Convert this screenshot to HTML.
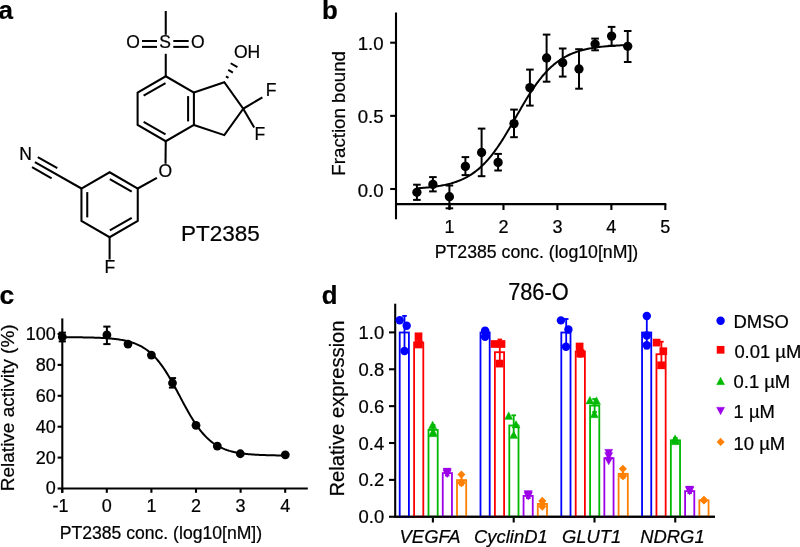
<!DOCTYPE html>
<html><head><meta charset="utf-8"><style>
html,body{margin:0;padding:0;background:#fff;overflow:hidden}
svg{display:block;will-change:transform}
text{font-family:"Liberation Sans",sans-serif;fill:#000;stroke:#000;stroke-width:0.22px}
</style></head><body>
<svg width="800" height="547" viewBox="0 0 800 547">
<rect width="800" height="547" fill="#fff"/>
<polygon points="165.75,76.25 193.90,92.50 193.90,125.00 165.75,141.25 137.60,125.00 137.60,92.50" fill="none" stroke="#000" stroke-width="2.05" stroke-linejoin="miter"/>
<line x1="165.53" y1="83.07" x2="143.62" y2="95.72" stroke="#000" stroke-width="2.05"/>
<line x1="188.10" y1="96.10" x2="188.10" y2="121.40" stroke="#000" stroke-width="2.05"/>
<line x1="165.53" y1="134.43" x2="143.62" y2="121.78" stroke="#000" stroke-width="2.05"/>
<polygon points="109.60,172.25 137.75,188.50 137.75,221.00 109.60,237.25 81.45,221.00 81.45,188.50" fill="none" stroke="#000" stroke-width="2.05" stroke-linejoin="miter"/>
<line x1="87.25" y1="192.10" x2="87.25" y2="217.40" stroke="#000" stroke-width="2.05"/>
<line x1="109.82" y1="179.07" x2="131.73" y2="191.72" stroke="#000" stroke-width="2.05"/>
<line x1="131.73" y1="217.78" x2="109.82" y2="230.43" stroke="#000" stroke-width="2.05"/>
<polyline points="193.90,92.50 224.3,82.2 243.2,108.75 224.3,135.1 193.90,125.00" fill="none" stroke="#000" stroke-width="2.05" stroke-linejoin="miter"/>
<line x1="243.20" y1="108.75" x2="262.40" y2="97.30" stroke="#000" stroke-width="2.05"/>
<line x1="243.20" y1="108.75" x2="254.20" y2="127.40" stroke="#000" stroke-width="2.05"/>
<line x1="165.75" y1="11.00" x2="165.75" y2="34.80" stroke="#000" stroke-width="2.05"/>
<line x1="165.75" y1="53.80" x2="165.75" y2="76.25" stroke="#000" stroke-width="2.05"/>
<line x1="142.00" y1="41.00" x2="157.00" y2="41.00" stroke="#000" stroke-width="2.05"/>
<line x1="173.30" y1="41.00" x2="188.70" y2="41.00" stroke="#000" stroke-width="2.05"/>
<line x1="142.00" y1="46.90" x2="157.00" y2="46.90" stroke="#000" stroke-width="2.05"/>
<line x1="173.30" y1="46.90" x2="188.70" y2="46.90" stroke="#000" stroke-width="2.05"/>
<line x1="165.75" y1="141.25" x2="165.50" y2="163.70" stroke="#000" stroke-width="2.05"/>
<line x1="156.90" y1="177.80" x2="137.75" y2="188.50" stroke="#000" stroke-width="2.05"/>
<line x1="109.60" y1="237.25" x2="109.60" y2="259.50" stroke="#000" stroke-width="2.05"/>
<line x1="34.89" y1="162.16" x2="81.45" y2="188.50" stroke="#000" stroke-width="2.05"/>
<line x1="37.75" y1="157.11" x2="57.33" y2="168.19" stroke="#000" stroke-width="2.05"/>
<line x1="32.03" y1="167.20" x2="51.62" y2="178.28" stroke="#000" stroke-width="2.05"/>
<line x1="225.93" y1="76.33" x2="228.53" y2="77.82" stroke="#000" stroke-width="2.0"/>
<line x1="228.22" y1="69.92" x2="232.91" y2="72.61" stroke="#000" stroke-width="2.0"/>
<line x1="230.66" y1="63.25" x2="237.43" y2="67.13" stroke="#000" stroke-width="2.0"/>
<text x="165.20" y="47.80" font-size="17.5" text-anchor="middle" font-weight="normal" font-style="normal" >S</text>
<text x="133.10" y="47.80" font-size="17.5" text-anchor="middle" font-weight="normal" font-style="normal" >O</text>
<text x="197.90" y="47.80" font-size="17.5" text-anchor="middle" font-weight="normal" font-style="normal" >O</text>
<text x="234.00" y="57.80" font-size="17.5" text-anchor="start" font-weight="normal" font-style="normal" >OH</text>
<text x="265.70" y="95.80" font-size="17.5" text-anchor="start" font-weight="normal" font-style="normal" >F</text>
<text x="254.40" y="139.50" font-size="17.5" text-anchor="start" font-weight="normal" font-style="normal" >F</text>
<text x="165.30" y="176.70" font-size="17.5" text-anchor="middle" font-weight="normal" font-style="normal" >O</text>
<text x="19.30" y="160.00" font-size="17.5" text-anchor="start" font-weight="normal" font-style="normal" >N</text>
<text x="104.40" y="272.90" font-size="17.5" text-anchor="start" font-weight="normal" font-style="normal" >F</text>
<text x="181.00" y="240.50" font-size="22.5" text-anchor="start" font-weight="normal" font-style="normal" >PT2385</text>
<text x="-1.50" y="18.60" font-size="26" text-anchor="start" font-weight="bold" font-style="normal" >a</text>
<line x1="396.00" y1="12.50" x2="396.00" y2="219.30" stroke="#000" stroke-width="2.1"/>
<line x1="396.00" y1="204.10" x2="666.30" y2="204.10" stroke="#000" stroke-width="2.1"/>
<line x1="390.20" y1="189.00" x2="396.00" y2="189.00" stroke="#000" stroke-width="2.1"/>
<text x="383.60" y="196.50" font-size="18.6" text-anchor="end" font-weight="normal" font-style="normal" >0.0</text>
<line x1="390.20" y1="115.85" x2="396.00" y2="115.85" stroke="#000" stroke-width="2.1"/>
<text x="383.60" y="123.35" font-size="18.6" text-anchor="end" font-weight="normal" font-style="normal" >0.5</text>
<line x1="390.20" y1="42.70" x2="396.00" y2="42.70" stroke="#000" stroke-width="2.1"/>
<text x="383.60" y="50.20" font-size="18.6" text-anchor="end" font-weight="normal" font-style="normal" >1.0</text>
<line x1="449.52" y1="204.10" x2="449.52" y2="210.00" stroke="#000" stroke-width="2.1"/>
<text x="449.52" y="233.00" font-size="18" text-anchor="middle" font-weight="normal" font-style="normal" >1</text>
<line x1="503.47" y1="204.10" x2="503.47" y2="210.00" stroke="#000" stroke-width="2.1"/>
<text x="503.47" y="233.00" font-size="18" text-anchor="middle" font-weight="normal" font-style="normal" >2</text>
<line x1="557.42" y1="204.10" x2="557.42" y2="210.00" stroke="#000" stroke-width="2.1"/>
<text x="557.42" y="233.00" font-size="18" text-anchor="middle" font-weight="normal" font-style="normal" >3</text>
<line x1="611.37" y1="204.10" x2="611.37" y2="210.00" stroke="#000" stroke-width="2.1"/>
<text x="611.37" y="233.00" font-size="18" text-anchor="middle" font-weight="normal" font-style="normal" >4</text>
<line x1="665.32" y1="204.10" x2="665.32" y2="210.00" stroke="#000" stroke-width="2.1"/>
<text x="665.32" y="233.00" font-size="18" text-anchor="middle" font-weight="normal" font-style="normal" >5</text>
<text x="536.50" y="257.70" font-size="17.7" text-anchor="middle" font-weight="normal" font-style="normal" >PT2385 conc. (log10[nM])</text>
<text x="345.30" y="113.30" font-size="18.7" text-anchor="middle" font-weight="normal" font-style="normal" transform="rotate(-90 345.3 113.3)">Fraction bound</text>
<text x="322.00" y="18.60" font-size="25.8" text-anchor="start" font-weight="bold" font-style="normal" >b</text>
<polyline points="416.74,188.26 417.79,188.20 418.83,188.14 419.88,188.07 420.92,188.00 421.97,187.92 423.01,187.84 424.06,187.76 425.10,187.67 426.15,187.58 427.19,187.49 428.24,187.39 429.28,187.28 430.33,187.17 431.37,187.05 432.42,186.93 433.46,186.80 434.51,186.67 435.55,186.52 436.60,186.38 437.64,186.22 438.69,186.06 439.73,185.88 440.78,185.70 441.82,185.52 442.87,185.32 443.92,185.11 444.96,184.89 446.01,184.66 447.05,184.42 448.10,184.17 449.14,183.91 450.19,183.63 451.23,183.35 452.28,183.04 453.32,182.73 454.37,182.40 455.41,182.05 456.46,181.69 457.50,181.31 458.55,180.91 459.59,180.50 460.64,180.06 461.68,179.61 462.73,179.14 463.77,178.64 464.82,178.13 465.86,177.59 466.91,177.03 467.95,176.45 469.00,175.84 470.05,175.20 471.09,174.54 472.14,173.85 473.18,173.14 474.23,172.39 475.27,171.62 476.32,170.82 477.36,169.98 478.41,169.12 479.45,168.22 480.50,167.29 481.54,166.33 482.59,165.33 483.63,164.30 484.68,163.23 485.72,162.13 486.77,161.00 487.81,159.83 488.86,158.62 489.90,157.38 490.95,156.11 491.99,154.80 493.04,153.45 494.08,152.07 495.13,150.65 496.18,149.20 497.22,147.72 498.27,146.21 499.31,144.66 500.36,143.09 501.40,141.49 502.45,139.86 503.49,138.20 504.54,136.52 505.58,134.81 506.63,133.09 507.67,131.34 508.72,129.58 509.76,127.80 510.81,126.01 511.85,124.20 512.90,122.39 513.94,120.57 514.99,118.75 516.03,116.92 517.08,115.10 518.12,113.27 519.17,111.45 520.21,109.64 521.26,107.84 522.31,106.05 523.35,104.27 524.40,102.51 525.44,100.76 526.49,99.04 527.53,97.33 528.58,95.65 529.62,94.00 530.67,92.37 531.71,90.76 532.76,89.19 533.80,87.65 534.85,86.13 535.89,84.65 536.94,83.20 537.98,81.79 539.03,80.41 540.07,79.07 541.12,77.76 542.16,76.48 543.21,75.24 544.25,74.04 545.30,72.87 546.34,71.73 547.39,70.63 548.44,69.57 549.48,68.54 550.53,67.55 551.57,66.58 552.62,65.65 553.66,64.76 554.71,63.89 555.75,63.06 556.80,62.26 557.84,61.49 558.89,60.74 559.93,60.03 560.98,59.34 562.02,58.68 563.07,58.05 564.11,57.44 565.16,56.85 566.20,56.29 567.25,55.76 568.29,55.24 569.34,54.75 570.38,54.28 571.43,53.82 572.47,53.39 573.52,52.98 574.57,52.58 575.61,52.20 576.66,51.84 577.70,51.49 578.75,51.16 579.79,50.85 580.84,50.55 581.88,50.26 582.93,49.98 583.97,49.72 585.02,49.47 586.06,49.23 587.11,49.00 588.15,48.79 589.20,48.58 590.24,48.38 591.29,48.19 592.33,48.01 593.38,47.84 594.42,47.68 595.47,47.52 596.51,47.37 597.56,47.23 598.60,47.10 599.65,46.97 600.70,46.85 601.74,46.73 602.79,46.62 603.83,46.51 604.88,46.41 605.92,46.32 606.97,46.23 608.01,46.14 609.06,46.06 610.10,45.98 611.15,45.90 612.19,45.83 613.24,45.76 614.28,45.70 615.33,45.64 616.37,45.58 617.42,45.52 618.46,45.47 619.51,45.42 620.55,45.37 621.60,45.33 622.64,45.28 623.69,45.24 624.73,45.20 625.78,45.17" fill="none" stroke="#000" stroke-width="2"/>
<line x1="416.90" y1="184.70" x2="416.90" y2="199.90" stroke="#000" stroke-width="2"/>
<line x1="413.10" y1="184.70" x2="420.70" y2="184.70" stroke="#000" stroke-width="2"/>
<line x1="413.10" y1="199.90" x2="420.70" y2="199.90" stroke="#000" stroke-width="2"/>
<circle cx="416.9" cy="192.3" r="4.65" fill="#000"/>
<line x1="432.90" y1="177.10" x2="432.90" y2="191.40" stroke="#000" stroke-width="2"/>
<line x1="429.10" y1="177.10" x2="436.70" y2="177.10" stroke="#000" stroke-width="2"/>
<line x1="429.10" y1="191.40" x2="436.70" y2="191.40" stroke="#000" stroke-width="2"/>
<circle cx="432.9" cy="184.4" r="4.65" fill="#000"/>
<line x1="449.40" y1="185.50" x2="449.40" y2="208.30" stroke="#000" stroke-width="2"/>
<line x1="445.60" y1="185.50" x2="453.20" y2="185.50" stroke="#000" stroke-width="2"/>
<line x1="445.60" y1="208.30" x2="453.20" y2="208.30" stroke="#000" stroke-width="2"/>
<circle cx="449.4" cy="196.7" r="4.65" fill="#000"/>
<line x1="465.40" y1="157.10" x2="465.40" y2="175.10" stroke="#000" stroke-width="2"/>
<line x1="461.60" y1="157.10" x2="469.20" y2="157.10" stroke="#000" stroke-width="2"/>
<line x1="461.60" y1="175.10" x2="469.20" y2="175.10" stroke="#000" stroke-width="2"/>
<circle cx="465.4" cy="166.4" r="4.65" fill="#000"/>
<line x1="481.60" y1="128.60" x2="481.60" y2="176.20" stroke="#000" stroke-width="2"/>
<line x1="477.80" y1="128.60" x2="485.40" y2="128.60" stroke="#000" stroke-width="2"/>
<line x1="477.80" y1="176.20" x2="485.40" y2="176.20" stroke="#000" stroke-width="2"/>
<circle cx="481.6" cy="152.5" r="4.65" fill="#000"/>
<line x1="498.10" y1="153.90" x2="498.10" y2="170.50" stroke="#000" stroke-width="2"/>
<line x1="494.30" y1="153.90" x2="501.90" y2="153.90" stroke="#000" stroke-width="2"/>
<line x1="494.30" y1="170.50" x2="501.90" y2="170.50" stroke="#000" stroke-width="2"/>
<circle cx="498.1" cy="162.4" r="4.65" fill="#000"/>
<line x1="514.00" y1="109.60" x2="514.00" y2="137.20" stroke="#000" stroke-width="2"/>
<line x1="510.20" y1="109.60" x2="517.80" y2="109.60" stroke="#000" stroke-width="2"/>
<line x1="510.20" y1="137.20" x2="517.80" y2="137.20" stroke="#000" stroke-width="2"/>
<circle cx="514.0" cy="123.6" r="4.65" fill="#000"/>
<line x1="529.90" y1="69.60" x2="529.90" y2="105.60" stroke="#000" stroke-width="2"/>
<line x1="526.10" y1="69.60" x2="533.70" y2="69.60" stroke="#000" stroke-width="2"/>
<line x1="526.10" y1="105.60" x2="533.70" y2="105.60" stroke="#000" stroke-width="2"/>
<circle cx="529.9" cy="87.6" r="4.65" fill="#000"/>
<line x1="546.60" y1="34.60" x2="546.60" y2="81.70" stroke="#000" stroke-width="2"/>
<line x1="542.80" y1="34.60" x2="550.40" y2="34.60" stroke="#000" stroke-width="2"/>
<line x1="542.80" y1="81.70" x2="550.40" y2="81.70" stroke="#000" stroke-width="2"/>
<circle cx="546.6" cy="58.0" r="4.65" fill="#000"/>
<line x1="562.70" y1="48.50" x2="562.70" y2="76.60" stroke="#000" stroke-width="2"/>
<line x1="558.90" y1="48.50" x2="566.50" y2="48.50" stroke="#000" stroke-width="2"/>
<line x1="558.90" y1="76.60" x2="566.50" y2="76.60" stroke="#000" stroke-width="2"/>
<circle cx="562.7" cy="62.7" r="4.65" fill="#000"/>
<line x1="579.00" y1="49.20" x2="579.00" y2="88.70" stroke="#000" stroke-width="2"/>
<line x1="575.20" y1="49.20" x2="582.80" y2="49.20" stroke="#000" stroke-width="2"/>
<line x1="575.20" y1="88.70" x2="582.80" y2="88.70" stroke="#000" stroke-width="2"/>
<circle cx="579.0" cy="69.0" r="4.65" fill="#000"/>
<line x1="595.10" y1="38.60" x2="595.10" y2="50.30" stroke="#000" stroke-width="2"/>
<line x1="591.30" y1="38.60" x2="598.90" y2="38.60" stroke="#000" stroke-width="2"/>
<line x1="591.30" y1="50.30" x2="598.90" y2="50.30" stroke="#000" stroke-width="2"/>
<circle cx="595.1" cy="44.1" r="4.65" fill="#000"/>
<line x1="611.60" y1="26.90" x2="611.60" y2="45.80" stroke="#000" stroke-width="2"/>
<line x1="607.80" y1="26.90" x2="615.40" y2="26.90" stroke="#000" stroke-width="2"/>
<line x1="607.80" y1="45.80" x2="615.40" y2="45.80" stroke="#000" stroke-width="2"/>
<circle cx="611.6" cy="36.1" r="4.65" fill="#000"/>
<line x1="627.70" y1="31.00" x2="627.70" y2="62.00" stroke="#000" stroke-width="2"/>
<line x1="623.90" y1="31.00" x2="631.50" y2="31.00" stroke="#000" stroke-width="2"/>
<line x1="623.90" y1="62.00" x2="631.50" y2="62.00" stroke="#000" stroke-width="2"/>
<circle cx="627.7" cy="46.3" r="4.65" fill="#000"/>
<line x1="62.30" y1="318.40" x2="62.30" y2="492.80" stroke="#000" stroke-width="2.1"/>
<line x1="62.30" y1="488.50" x2="307.80" y2="488.50" stroke="#000" stroke-width="2.1"/>
<line x1="57.60" y1="488.50" x2="62.30" y2="488.50" stroke="#000" stroke-width="2.1"/>
<text x="55.80" y="493.90" font-size="18" text-anchor="end" font-weight="normal" font-style="normal" >0</text>
<line x1="57.60" y1="457.60" x2="62.30" y2="457.60" stroke="#000" stroke-width="2.1"/>
<text x="55.80" y="464.00" font-size="18" text-anchor="end" font-weight="normal" font-style="normal" >20</text>
<line x1="57.60" y1="426.70" x2="62.30" y2="426.70" stroke="#000" stroke-width="2.1"/>
<text x="55.80" y="433.10" font-size="18" text-anchor="end" font-weight="normal" font-style="normal" >40</text>
<line x1="57.60" y1="395.80" x2="62.30" y2="395.80" stroke="#000" stroke-width="2.1"/>
<text x="55.80" y="402.20" font-size="18" text-anchor="end" font-weight="normal" font-style="normal" >60</text>
<line x1="57.60" y1="364.90" x2="62.30" y2="364.90" stroke="#000" stroke-width="2.1"/>
<text x="55.80" y="371.30" font-size="18" text-anchor="end" font-weight="normal" font-style="normal" >80</text>
<line x1="57.60" y1="334.00" x2="62.30" y2="334.00" stroke="#000" stroke-width="2.1"/>
<text x="55.80" y="340.40" font-size="18" text-anchor="end" font-weight="normal" font-style="normal" >100</text>
<line x1="62.20" y1="488.50" x2="62.20" y2="492.80" stroke="#000" stroke-width="2.1"/>
<text x="60.60" y="511.70" font-size="18" text-anchor="middle" font-weight="normal" font-style="normal" >-1</text>
<line x1="106.80" y1="488.50" x2="106.80" y2="492.80" stroke="#000" stroke-width="2.1"/>
<text x="106.80" y="511.70" font-size="18" text-anchor="middle" font-weight="normal" font-style="normal" >0</text>
<line x1="151.40" y1="488.50" x2="151.40" y2="492.80" stroke="#000" stroke-width="2.1"/>
<text x="151.40" y="511.70" font-size="18" text-anchor="middle" font-weight="normal" font-style="normal" >1</text>
<line x1="196.00" y1="488.50" x2="196.00" y2="492.80" stroke="#000" stroke-width="2.1"/>
<text x="196.00" y="511.70" font-size="18" text-anchor="middle" font-weight="normal" font-style="normal" >2</text>
<line x1="240.60" y1="488.50" x2="240.60" y2="492.80" stroke="#000" stroke-width="2.1"/>
<text x="240.60" y="511.70" font-size="18" text-anchor="middle" font-weight="normal" font-style="normal" >3</text>
<line x1="285.20" y1="488.50" x2="285.20" y2="492.80" stroke="#000" stroke-width="2.1"/>
<text x="285.20" y="511.70" font-size="18" text-anchor="middle" font-weight="normal" font-style="normal" >4</text>
<text x="160.90" y="539.40" font-size="17.6" text-anchor="middle" font-weight="normal" font-style="normal" >PT2385 conc. (log10[nM])</text>
<text x="13.80" y="407.80" font-size="19.0" text-anchor="middle" font-weight="normal" font-style="normal" transform="rotate(-90 13.8 407.8)">Relative activity (%)</text>
<text x="-0.60" y="303.80" font-size="26.5" text-anchor="start" font-weight="bold" font-style="normal" >c</text>
<polyline points="62.20,337.20 63.31,337.20 64.43,337.21 65.54,337.21 66.66,337.22 67.78,337.22 68.89,337.23 70.00,337.24 71.12,337.25 72.23,337.26 73.35,337.26 74.47,337.27 75.58,337.28 76.69,337.30 77.81,337.31 78.92,337.32 80.04,337.33 81.16,337.35 82.27,337.36 83.38,337.38 84.50,337.40 85.61,337.42 86.73,337.44 87.84,337.46 88.96,337.49 90.07,337.51 91.19,337.54 92.30,337.57 93.42,337.61 94.53,337.64 95.65,337.68 96.77,337.72 97.88,337.76 98.99,337.81 100.11,337.86 101.22,337.91 102.34,337.97 103.45,338.03 104.57,338.09 105.69,338.16 106.80,338.24 107.91,338.32 109.03,338.40 110.14,338.50 111.26,338.60 112.38,338.70 113.49,338.82 114.61,338.94 115.72,339.07 116.84,339.21 117.95,339.36 119.06,339.52 120.18,339.70 121.30,339.88 122.41,340.08 123.53,340.29 124.64,340.52 125.75,340.76 126.87,341.02 127.98,341.30 129.10,341.59 130.22,341.91 131.33,342.25 132.44,342.61 133.56,342.99 134.68,343.40 135.79,343.84 136.91,344.30 138.02,344.79 139.13,345.32 140.25,345.88 141.37,346.48 142.48,347.11 143.59,347.78 144.71,348.49 145.82,349.24 146.94,350.04 148.06,350.88 149.17,351.77 150.28,352.71 151.40,353.69 152.51,354.73 153.63,355.83 154.75,356.98 155.86,358.18 156.97,359.44 158.09,360.76 159.20,362.14 160.32,363.57 161.44,365.06 162.55,366.61 163.66,368.22 164.78,369.88 165.90,371.59 167.01,373.36 168.12,375.17 169.24,377.03 170.35,378.94 171.47,380.88 172.59,382.87 173.70,384.88 174.81,386.93 175.93,388.99 177.05,391.08 178.16,393.18 179.28,395.28 180.39,397.39 181.50,399.50 182.62,401.60 183.74,403.68 184.85,405.75 185.96,407.79 187.08,409.81 188.19,411.79 189.31,413.74 190.43,415.65 191.54,417.51 192.65,419.33 193.77,421.10 194.88,422.81 196.00,424.48 197.12,426.08 198.23,427.63 199.35,429.13 200.46,430.56 201.57,431.94 202.69,433.26 203.81,434.53 204.92,435.73 206.04,436.88 207.15,437.98 208.26,439.02 209.38,440.01 210.50,440.95 211.61,441.85 212.72,442.69 213.84,443.49 214.95,444.24 216.07,444.95 217.19,445.62 218.30,446.26 219.41,446.85 220.53,447.42 221.65,447.94 222.76,448.44 223.88,448.90 224.99,449.34 226.10,449.75 227.22,450.14 228.34,450.50 229.45,450.84 230.56,451.15 231.68,451.45 232.80,451.73 233.91,451.99 235.02,452.23 236.14,452.46 237.25,452.67 238.37,452.87 239.49,453.05 240.60,453.23 241.72,453.39 242.83,453.54 243.94,453.68 245.06,453.81 246.18,453.93 247.29,454.05 248.40,454.16 249.52,454.26 250.63,454.35 251.75,454.44 252.87,454.52 253.98,454.59 255.10,454.66 256.21,454.73 257.32,454.79 258.44,454.85 259.56,454.90 260.67,454.95 261.78,455.00 262.90,455.04 264.02,455.08 265.13,455.12 266.25,455.15 267.36,455.18 268.48,455.21 269.59,455.24 270.70,455.27 271.82,455.29 272.94,455.32 274.05,455.34 275.17,455.36 276.28,455.38 277.40,455.39 278.51,455.41 279.62,455.42 280.74,455.44 281.86,455.45 282.97,455.46 284.08,455.47 285.20,455.48" fill="none" stroke="#000" stroke-width="2"/>
<line x1="62.30" y1="332.60" x2="62.30" y2="341.40" stroke="#000" stroke-width="2"/>
<line x1="58.70" y1="332.60" x2="65.90" y2="332.60" stroke="#000" stroke-width="2"/>
<line x1="58.70" y1="341.40" x2="65.90" y2="341.40" stroke="#000" stroke-width="2"/>
<circle cx="62.3" cy="336.9" r="4.4" fill="#000"/>
<line x1="106.90" y1="326.60" x2="106.90" y2="344.10" stroke="#000" stroke-width="2"/>
<line x1="103.30" y1="326.60" x2="110.50" y2="326.60" stroke="#000" stroke-width="2"/>
<line x1="103.30" y1="344.10" x2="110.50" y2="344.10" stroke="#000" stroke-width="2"/>
<circle cx="106.9" cy="334.9" r="4.4" fill="#000"/>
<circle cx="128.0" cy="344.1" r="4.4" fill="#000"/>
<circle cx="151.4" cy="355.1" r="4.4" fill="#000"/>
<line x1="172.50" y1="378.10" x2="172.50" y2="387.60" stroke="#000" stroke-width="2"/>
<line x1="168.90" y1="378.10" x2="176.10" y2="378.10" stroke="#000" stroke-width="2"/>
<line x1="168.90" y1="387.60" x2="176.10" y2="387.60" stroke="#000" stroke-width="2"/>
<circle cx="172.5" cy="383.0" r="4.4" fill="#000"/>
<circle cx="196.0" cy="425.3" r="4.4" fill="#000"/>
<circle cx="217.3" cy="446.1" r="4.4" fill="#000"/>
<circle cx="240.3" cy="453.75" r="4.4" fill="#000"/>
<circle cx="285.3" cy="454.8" r="4.4" fill="#000"/>
<line x1="395.20" y1="303.70" x2="395.20" y2="517.80" stroke="#000" stroke-width="2.1"/>
<line x1="395.50" y1="516.75" x2="715.00" y2="516.75" stroke="#000" stroke-width="2.1"/>
<line x1="389.00" y1="516.75" x2="395.20" y2="516.75" stroke="#000" stroke-width="2.1"/>
<text x="384.20" y="523.25" font-size="18.4" text-anchor="end" font-weight="normal" font-style="normal" >0.0</text>
<line x1="389.00" y1="479.88" x2="395.20" y2="479.88" stroke="#000" stroke-width="2.1"/>
<text x="384.20" y="486.38" font-size="18.4" text-anchor="end" font-weight="normal" font-style="normal" >0.2</text>
<line x1="389.00" y1="443.01" x2="395.20" y2="443.01" stroke="#000" stroke-width="2.1"/>
<text x="384.20" y="449.51" font-size="18.4" text-anchor="end" font-weight="normal" font-style="normal" >0.4</text>
<line x1="389.00" y1="406.14" x2="395.20" y2="406.14" stroke="#000" stroke-width="2.1"/>
<text x="384.20" y="412.64" font-size="18.4" text-anchor="end" font-weight="normal" font-style="normal" >0.6</text>
<line x1="389.00" y1="369.27" x2="395.20" y2="369.27" stroke="#000" stroke-width="2.1"/>
<text x="384.20" y="375.77" font-size="18.4" text-anchor="end" font-weight="normal" font-style="normal" >0.8</text>
<line x1="389.00" y1="332.40" x2="395.20" y2="332.40" stroke="#000" stroke-width="2.1"/>
<text x="384.20" y="338.90" font-size="18.4" text-anchor="end" font-weight="normal" font-style="normal" >1.0</text>
<line x1="432.90" y1="516.75" x2="432.90" y2="522.50" stroke="#000" stroke-width="2.1"/>
<line x1="513.70" y1="516.75" x2="513.70" y2="522.50" stroke="#000" stroke-width="2.1"/>
<line x1="594.50" y1="516.75" x2="594.50" y2="522.50" stroke="#000" stroke-width="2.1"/>
<line x1="675.25" y1="516.75" x2="675.25" y2="522.50" stroke="#000" stroke-width="2.1"/>
<text x="430.10" y="543.20" font-size="18.4" text-anchor="middle" font-weight="normal" font-style="italic" >VEGFA</text>
<text x="510.90" y="543.20" font-size="18.4" text-anchor="middle" font-weight="normal" font-style="italic" >CyclinD1</text>
<text x="591.70" y="543.20" font-size="18.4" text-anchor="middle" font-weight="normal" font-style="italic" >GLUT1</text>
<text x="672.45" y="543.20" font-size="18.4" text-anchor="middle" font-weight="normal" font-style="italic" >NDRG1</text>
<text x="0" y="0" font-size="22" text-anchor="middle" transform="translate(538.4 299.7) scale(0.99 1.07)">786-O</text>
<text x="344.10" y="408.50" font-size="20.2" text-anchor="middle" font-weight="normal" font-style="normal" transform="rotate(-90 344.1 408.5)">Relative expression</text>
<text x="321.80" y="303.60" font-size="25.8" text-anchor="start" font-weight="bold" font-style="normal" >d</text>
<rect x="399.70" y="332.50" width="9.2" height="184.25" fill="none" stroke="#0000ff" stroke-width="1.8"/>
<line x1="404.50" y1="315.90" x2="404.50" y2="349.00" stroke="#0000ff" stroke-width="1.8"/>
<line x1="402.20" y1="315.90" x2="406.80" y2="315.90" stroke="#0000ff" stroke-width="1.8"/>
<line x1="402.20" y1="349.00" x2="406.80" y2="349.00" stroke="#0000ff" stroke-width="1.8"/>
<circle cx="399.7" cy="320.3" r="4.2" fill="#0000ff"/>
<circle cx="406.7" cy="325.8" r="4.2" fill="#0000ff"/>
<circle cx="404.5" cy="351" r="4.2" fill="#0000ff"/>
<rect x="414.10" y="342.50" width="9.2" height="174.25" fill="none" stroke="#ff0000" stroke-width="1.8"/>
<line x1="418.90" y1="338.00" x2="418.90" y2="347.00" stroke="#ff0000" stroke-width="1.8"/>
<line x1="416.60" y1="338.00" x2="421.20" y2="338.00" stroke="#ff0000" stroke-width="1.8"/>
<line x1="416.60" y1="347.00" x2="421.20" y2="347.00" stroke="#ff0000" stroke-width="1.8"/>
<rect x="414.65" y="332.45" width="7.7" height="7.7" fill="#ff0000"/>
<rect x="414.65" y="340.65" width="7.7" height="7.7" fill="#ff0000"/>
<rect x="414.84999999999997" y="340.15" width="7.7" height="7.7" fill="#ff0000"/>
<rect x="428.50" y="429.90" width="9.2" height="86.85" fill="none" stroke="#00b900" stroke-width="1.8"/>
<line x1="433.10" y1="425.00" x2="433.10" y2="434.50" stroke="#00b900" stroke-width="1.8"/>
<line x1="430.80" y1="425.00" x2="435.40" y2="425.00" stroke="#00b900" stroke-width="1.8"/>
<line x1="430.80" y1="434.50" x2="435.40" y2="434.50" stroke="#00b900" stroke-width="1.8"/>
<polygon points="432.6,421.0 436.70000000000005,428.7 428.5,428.7" fill="#00b900" stroke="#00b900" stroke-width="0.3" stroke-linejoin="round"/>
<polygon points="432.8,429.1 436.90000000000003,436.8 428.7,436.8" fill="#00b900" stroke="#00b900" stroke-width="0.3" stroke-linejoin="round"/>
<polygon points="433.1,428.1 437.20000000000005,435.8 429.0,435.8" fill="#00b900" stroke="#00b900" stroke-width="0.3" stroke-linejoin="round"/>
<rect x="442.75" y="473.10" width="9.2" height="43.65" fill="none" stroke="#9c00e8" stroke-width="1.8"/>
<line x1="447.20" y1="470.50" x2="447.20" y2="475.50" stroke="#9c00e8" stroke-width="1.8"/>
<line x1="444.90" y1="470.50" x2="449.50" y2="470.50" stroke="#9c00e8" stroke-width="1.8"/>
<line x1="444.90" y1="475.50" x2="449.50" y2="475.50" stroke="#9c00e8" stroke-width="1.8"/>
<polygon points="447.1,475.79999999999995 451.20000000000005,468.09999999999997 443.0,468.09999999999997" fill="#9c00e8" stroke="#9c00e8" stroke-width="0.3" stroke-linejoin="round"/>
<polygon points="447.1,477.59999999999997 451.20000000000005,469.9 443.0,469.9" fill="#9c00e8" stroke="#9c00e8" stroke-width="0.3" stroke-linejoin="round"/>
<polygon points="447.2,477.29999999999995 451.3,469.59999999999997 443.09999999999997,469.59999999999997" fill="#9c00e8" stroke="#9c00e8" stroke-width="0.3" stroke-linejoin="round"/>
<rect x="457.00" y="480.10" width="9.2" height="36.65" fill="none" stroke="#ff8000" stroke-width="1.8"/>
<line x1="461.50" y1="475.00" x2="461.50" y2="485.00" stroke="#ff8000" stroke-width="1.8"/>
<line x1="459.20" y1="475.00" x2="463.80" y2="475.00" stroke="#ff8000" stroke-width="1.8"/>
<line x1="459.20" y1="485.00" x2="463.80" y2="485.00" stroke="#ff8000" stroke-width="1.8"/>
<polygon points="461.4,470.5 465.4,474.6 461.4,478.70000000000005 457.4,474.6" fill="#ff8000"/>
<polygon points="461.4,479.09999999999997 465.4,483.2 461.4,487.3 457.4,483.2" fill="#ff8000"/>
<polygon points="461.5,478.09999999999997 465.5,482.2 461.5,486.3 457.5,482.2" fill="#ff8000"/>
<rect x="480.50" y="332.50" width="9.2" height="184.25" fill="none" stroke="#0000ff" stroke-width="1.8"/>
<line x1="485.10" y1="328.00" x2="485.10" y2="338.80" stroke="#0000ff" stroke-width="1.8"/>
<line x1="482.80" y1="328.00" x2="487.40" y2="328.00" stroke="#0000ff" stroke-width="1.8"/>
<line x1="482.80" y1="338.80" x2="487.40" y2="338.80" stroke="#0000ff" stroke-width="1.8"/>
<circle cx="485.1" cy="330.6" r="4.2" fill="#0000ff"/>
<circle cx="485.4" cy="332.3" r="4.2" fill="#0000ff"/>
<circle cx="485.1" cy="336.7" r="4.2" fill="#0000ff"/>
<rect x="494.90" y="352.20" width="9.2" height="164.55" fill="none" stroke="#ff0000" stroke-width="1.8"/>
<line x1="499.80" y1="339.50" x2="499.80" y2="364.50" stroke="#ff0000" stroke-width="1.8"/>
<line x1="497.50" y1="339.50" x2="502.10" y2="339.50" stroke="#ff0000" stroke-width="1.8"/>
<line x1="497.50" y1="364.50" x2="502.10" y2="364.50" stroke="#ff0000" stroke-width="1.8"/>
<rect x="490.65" y="340.15" width="7.7" height="7.7" fill="#ff0000"/>
<rect x="497.65" y="340.15" width="7.7" height="7.7" fill="#ff0000"/>
<rect x="495.75" y="359.75" width="7.7" height="7.7" fill="#ff0000"/>
<rect x="509.30" y="425.50" width="9.2" height="91.25" fill="none" stroke="#00b900" stroke-width="1.8"/>
<line x1="513.70" y1="415.30" x2="513.70" y2="435.50" stroke="#00b900" stroke-width="1.8"/>
<line x1="511.40" y1="415.30" x2="516.00" y2="415.30" stroke="#00b900" stroke-width="1.8"/>
<line x1="511.40" y1="435.50" x2="516.00" y2="435.50" stroke="#00b900" stroke-width="1.8"/>
<polygon points="508.7,411.70000000000005 512.8,419.40000000000003 504.59999999999997,419.40000000000003" fill="#00b900" stroke="#00b900" stroke-width="0.3" stroke-linejoin="round"/>
<polygon points="516,420.40000000000003 520.1,428.1 511.9,428.1" fill="#00b900" stroke="#00b900" stroke-width="0.3" stroke-linejoin="round"/>
<polygon points="513.7,430.90000000000003 517.8000000000001,438.6 509.6,438.6" fill="#00b900" stroke="#00b900" stroke-width="0.3" stroke-linejoin="round"/>
<rect x="523.55" y="495.90" width="9.2" height="20.85" fill="none" stroke="#9c00e8" stroke-width="1.8"/>
<line x1="528.30" y1="493.00" x2="528.30" y2="498.00" stroke="#9c00e8" stroke-width="1.8"/>
<line x1="526.00" y1="493.00" x2="530.60" y2="493.00" stroke="#9c00e8" stroke-width="1.8"/>
<line x1="526.00" y1="498.00" x2="530.60" y2="498.00" stroke="#9c00e8" stroke-width="1.8"/>
<polygon points="528.2,498.2 532.3000000000001,490.5 524.1,490.5" fill="#9c00e8" stroke="#9c00e8" stroke-width="0.3" stroke-linejoin="round"/>
<polygon points="528.2,500.09999999999997 532.3000000000001,492.4 524.1,492.4" fill="#9c00e8" stroke="#9c00e8" stroke-width="0.3" stroke-linejoin="round"/>
<polygon points="528.3,499.4 532.4,491.7 524.1999999999999,491.7" fill="#9c00e8" stroke="#9c00e8" stroke-width="0.3" stroke-linejoin="round"/>
<rect x="537.80" y="503.90" width="9.2" height="12.85" fill="none" stroke="#ff8000" stroke-width="1.8"/>
<line x1="542.40" y1="500.00" x2="542.40" y2="507.50" stroke="#ff8000" stroke-width="1.8"/>
<line x1="540.10" y1="500.00" x2="544.70" y2="500.00" stroke="#ff8000" stroke-width="1.8"/>
<line x1="540.10" y1="507.50" x2="544.70" y2="507.50" stroke="#ff8000" stroke-width="1.8"/>
<polygon points="542.3,496.79999999999995 546.3,500.9 542.3,505.0 538.3,500.9" fill="#ff8000"/>
<polygon points="542.3,502.5 546.3,506.6 542.3,510.70000000000005 538.3,506.6" fill="#ff8000"/>
<polygon points="542.4,499.9 546.4,504 542.4,508.1 538.4,504" fill="#ff8000"/>
<rect x="561.30" y="332.50" width="9.2" height="184.25" fill="none" stroke="#0000ff" stroke-width="1.8"/>
<line x1="566.20" y1="319.00" x2="566.20" y2="347.50" stroke="#0000ff" stroke-width="1.8"/>
<line x1="563.90" y1="319.00" x2="568.50" y2="319.00" stroke="#0000ff" stroke-width="1.8"/>
<line x1="563.90" y1="347.50" x2="568.50" y2="347.50" stroke="#0000ff" stroke-width="1.8"/>
<circle cx="560.9" cy="320.4" r="4.2" fill="#0000ff"/>
<circle cx="568.4" cy="329.5" r="4.2" fill="#0000ff"/>
<circle cx="566" cy="346.7" r="4.2" fill="#0000ff"/>
<rect x="575.70" y="351.50" width="9.2" height="165.25" fill="none" stroke="#ff0000" stroke-width="1.8"/>
<line x1="580.40" y1="346.00" x2="580.40" y2="356.60" stroke="#ff0000" stroke-width="1.8"/>
<line x1="578.10" y1="346.00" x2="582.70" y2="346.00" stroke="#ff0000" stroke-width="1.8"/>
<line x1="578.10" y1="356.60" x2="582.70" y2="356.60" stroke="#ff0000" stroke-width="1.8"/>
<rect x="575.75" y="342.65" width="7.7" height="7.7" fill="#ff0000"/>
<rect x="576.55" y="349.75" width="7.7" height="7.7" fill="#ff0000"/>
<rect x="576.65" y="349.34999999999997" width="7.7" height="7.7" fill="#ff0000"/>
<rect x="590.10" y="405.60" width="9.2" height="111.15" fill="none" stroke="#00b900" stroke-width="1.8"/>
<line x1="594.60" y1="399.00" x2="594.60" y2="412.00" stroke="#00b900" stroke-width="1.8"/>
<line x1="592.30" y1="399.00" x2="596.90" y2="399.00" stroke="#00b900" stroke-width="1.8"/>
<line x1="592.30" y1="412.00" x2="596.90" y2="412.00" stroke="#00b900" stroke-width="1.8"/>
<polygon points="589.9,396.20000000000005 594.0,403.90000000000003 585.8,403.90000000000003" fill="#00b900" stroke="#00b900" stroke-width="0.3" stroke-linejoin="round"/>
<polygon points="596.5,396.70000000000005 600.6,404.40000000000003 592.4,404.40000000000003" fill="#00b900" stroke="#00b900" stroke-width="0.3" stroke-linejoin="round"/>
<polygon points="594.3,410.1 598.4,417.8 590.1999999999999,417.8" fill="#00b900" stroke="#00b900" stroke-width="0.3" stroke-linejoin="round"/>
<rect x="604.35" y="458.20" width="9.2" height="58.55" fill="none" stroke="#9c00e8" stroke-width="1.8"/>
<line x1="608.80" y1="452.50" x2="608.80" y2="460.00" stroke="#9c00e8" stroke-width="1.8"/>
<line x1="606.50" y1="452.50" x2="611.10" y2="452.50" stroke="#9c00e8" stroke-width="1.8"/>
<line x1="606.50" y1="460.00" x2="611.10" y2="460.00" stroke="#9c00e8" stroke-width="1.8"/>
<polygon points="608.7,457.0 612.8000000000001,449.3 604.6,449.3" fill="#9c00e8" stroke="#9c00e8" stroke-width="0.3" stroke-linejoin="round"/>
<polygon points="608.7,460.2 612.8000000000001,452.5 604.6,452.5" fill="#9c00e8" stroke="#9c00e8" stroke-width="0.3" stroke-linejoin="round"/>
<polygon points="608.7,464.9 612.8000000000001,457.2 604.6,457.2" fill="#9c00e8" stroke="#9c00e8" stroke-width="0.3" stroke-linejoin="round"/>
<rect x="618.60" y="473.80" width="9.2" height="42.95" fill="none" stroke="#ff8000" stroke-width="1.8"/>
<line x1="623.00" y1="469.50" x2="623.00" y2="478.00" stroke="#ff8000" stroke-width="1.8"/>
<line x1="620.70" y1="469.50" x2="625.30" y2="469.50" stroke="#ff8000" stroke-width="1.8"/>
<line x1="620.70" y1="478.00" x2="625.30" y2="478.00" stroke="#ff8000" stroke-width="1.8"/>
<polygon points="622.9,464.7 626.9,468.8 622.9,472.90000000000003 618.9,468.8" fill="#ff8000"/>
<polygon points="622.9,471.5 626.9,475.6 622.9,479.70000000000005 618.9,475.6" fill="#ff8000"/>
<polygon points="623.0,472.09999999999997 627.0,476.2 623.0,480.3 619.0,476.2" fill="#ff8000"/>
<rect x="642.05" y="332.50" width="9.2" height="184.25" fill="none" stroke="#0000ff" stroke-width="1.8"/>
<line x1="646.80" y1="316.00" x2="646.80" y2="348.50" stroke="#0000ff" stroke-width="1.8"/>
<line x1="644.50" y1="316.00" x2="649.10" y2="316.00" stroke="#0000ff" stroke-width="1.8"/>
<line x1="644.50" y1="348.50" x2="649.10" y2="348.50" stroke="#0000ff" stroke-width="1.8"/>
<circle cx="646.8" cy="316.0" r="4.2" fill="#0000ff"/>
<circle cx="646.8" cy="335.5" r="4.2" fill="#0000ff"/>
<circle cx="646.8" cy="345.3" r="4.2" fill="#0000ff"/>
<rect x="656.45" y="354.20" width="9.2" height="162.55" fill="none" stroke="#ff0000" stroke-width="1.8"/>
<line x1="661.40" y1="341.70" x2="661.40" y2="366.50" stroke="#ff0000" stroke-width="1.8"/>
<line x1="659.10" y1="341.70" x2="663.70" y2="341.70" stroke="#ff0000" stroke-width="1.8"/>
<line x1="659.10" y1="366.50" x2="663.70" y2="366.50" stroke="#ff0000" stroke-width="1.8"/>
<rect x="652.75" y="338.75" width="7.7" height="7.7" fill="#ff0000"/>
<rect x="659.4499999999999" y="347.34999999999997" width="7.7" height="7.7" fill="#ff0000"/>
<rect x="657.25" y="361.45" width="7.7" height="7.7" fill="#ff0000"/>
<rect x="670.85" y="440.30" width="9.2" height="76.45" fill="none" stroke="#00b900" stroke-width="1.8"/>
<line x1="675.40" y1="438.00" x2="675.40" y2="442.50" stroke="#00b900" stroke-width="1.8"/>
<line x1="673.10" y1="438.00" x2="677.70" y2="438.00" stroke="#00b900" stroke-width="1.8"/>
<line x1="673.10" y1="442.50" x2="677.70" y2="442.50" stroke="#00b900" stroke-width="1.8"/>
<polygon points="675.1,434.70000000000005 679.2,442.40000000000003 671.0,442.40000000000003" fill="#00b900" stroke="#00b900" stroke-width="0.3" stroke-linejoin="round"/>
<polygon points="675.2,436.1 679.3000000000001,443.8 671.1,443.8" fill="#00b900" stroke="#00b900" stroke-width="0.3" stroke-linejoin="round"/>
<polygon points="675.3,437.1 679.4,444.8 671.1999999999999,444.8" fill="#00b900" stroke="#00b900" stroke-width="0.3" stroke-linejoin="round"/>
<rect x="685.10" y="491.10" width="9.2" height="25.65" fill="none" stroke="#9c00e8" stroke-width="1.8"/>
<line x1="689.70" y1="489.00" x2="689.70" y2="493.00" stroke="#9c00e8" stroke-width="1.8"/>
<line x1="687.40" y1="489.00" x2="692.00" y2="489.00" stroke="#9c00e8" stroke-width="1.8"/>
<line x1="687.40" y1="493.00" x2="692.00" y2="493.00" stroke="#9c00e8" stroke-width="1.8"/>
<polygon points="689.6,493.7 693.7,486.0 685.5,486.0" fill="#9c00e8" stroke="#9c00e8" stroke-width="0.3" stroke-linejoin="round"/>
<polygon points="689.6,494.5 693.7,486.8 685.5,486.8" fill="#9c00e8" stroke="#9c00e8" stroke-width="0.3" stroke-linejoin="round"/>
<polygon points="689.7,494.9 693.8000000000001,487.2 685.6,487.2" fill="#9c00e8" stroke="#9c00e8" stroke-width="0.3" stroke-linejoin="round"/>
<rect x="699.35" y="500.30" width="9.2" height="16.45" fill="none" stroke="#ff8000" stroke-width="1.8"/>
<line x1="704.00" y1="499.00" x2="704.00" y2="501.50" stroke="#ff8000" stroke-width="1.8"/>
<line x1="701.70" y1="499.00" x2="706.30" y2="499.00" stroke="#ff8000" stroke-width="1.8"/>
<line x1="701.70" y1="501.50" x2="706.30" y2="501.50" stroke="#ff8000" stroke-width="1.8"/>
<polygon points="703.9,495.9 707.9,500.0 703.9,504.1 699.9,500.0" fill="#ff8000"/>
<polygon points="703.9,496.29999999999995 707.9,500.4 703.9,504.5 699.9,500.4" fill="#ff8000"/>
<polygon points="704,496.09999999999997 708.0,500.2 704,504.3 700.0,500.2" fill="#ff8000"/>
<line x1="395.50" y1="516.75" x2="715.00" y2="516.75" stroke="#000" stroke-width="2.1"/>
<circle cx="720.6" cy="320.7" r="4.2" fill="#0000ff"/>
<text x="733.60" y="328.10" font-size="18.4" text-anchor="start" font-weight="normal" font-style="normal" >DMSO</text>
<rect x="716.75" y="345.95" width="7.7" height="7.7" fill="#ff0000"/>
<text x="734.40" y="357.80" font-size="18.4" text-anchor="start" font-weight="normal" font-style="normal" >0.01 &#181;M</text>
<polygon points="720.6,377.1 724.7,384.8 716.5,384.8" fill="#00b900" stroke="#00b900" stroke-width="0.3" stroke-linejoin="round"/>
<text x="733.60" y="388.40" font-size="18.4" text-anchor="start" font-weight="normal" font-style="normal" >0.1 &#181;M</text>
<polygon points="720.6,414.9 724.7,407.2 716.5,407.2" fill="#9c00e8" stroke="#9c00e8" stroke-width="0.3" stroke-linejoin="round"/>
<text x="733.60" y="417.80" font-size="18.4" text-anchor="start" font-weight="normal" font-style="normal" >1 &#181;M</text>
<polygon points="720.6,437.79999999999995 724.6,441.9 720.6,446.0 716.6,441.9" fill="#ff8000"/>
<text x="733.60" y="449.80" font-size="18.4" text-anchor="start" font-weight="normal" font-style="normal" >10 &#181;M</text>
</svg></body></html>
